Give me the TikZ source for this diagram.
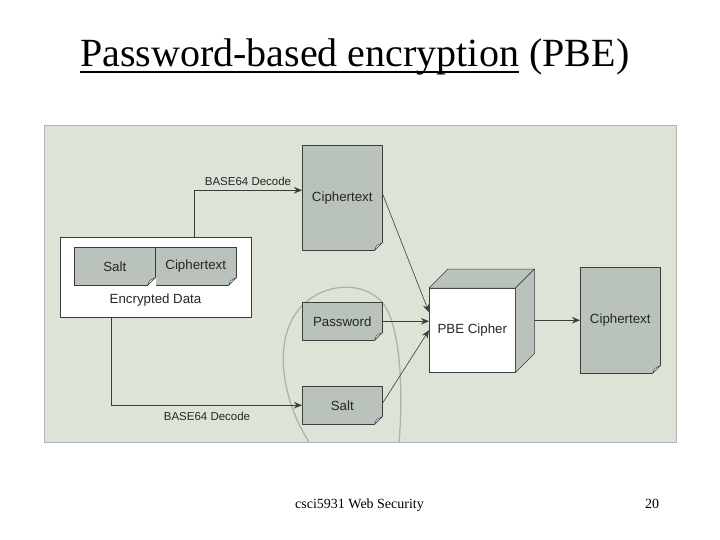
\documentclass[tikz,border=0pt]{standalone}
\usepackage{fontspec}
\setmainfont{Liberation Serif}
\newfontfamily\diafont{Liberation Sans}
\usetikzlibrary{arrows.meta,calc}
\definecolor{panelbg}{RGB}{221,227,215}
\definecolor{docfill}{RGB}{186,195,187}
\definecolor{lineg}{RGB}{60,60,60}
\definecolor{scrib}{RGB}{150,168,152}
\newcommand{\mydogear}[2]{%
  \fill[#2] ($(#1.south east)+(-8,0.6)$) -- ($(#1.south east)+(0.6,0.6)$) -- ($(#1.south east)+(0.6,-8)$) -- cycle;
  \filldraw[fill=docfill!55!white, draw=lineg, line width=0.4pt, line join=round]
    ($(#1.south east)+(-8,0)$) -- ($(#1.south east)+(0,-8)$) -- ($(#1.south east)+(-6,-5)$) -- cycle;
}
\begin{document}
\begin{tikzpicture}[x=1pt,y=-1pt,
  doc/.style={draw=lineg, line width=0.5pt, fill=docfill, inner sep=0pt, anchor=north west,
    font=\diafont\fontsize{13.3}{15}\selectfont, text=black!85},
  arr/.style={draw=lineg, line width=0.6pt, -{Stealth[length=8pt,width=6.5pt]}},
  lbl/.style={font=\diafont\fontsize{11.5}{13}\selectfont, text=black!85, inner sep=1pt},
  ttl/.style={anchor=base west, inner sep=0pt, font=\fontsize{40}{44}\selectfont}]
\useasboundingbox (0,0) rectangle (720,540);
\fill[white] (0,0) rectangle (720,540);

% title
\node[ttl] (t1) at (80,67) {Password-based encryption};
\node[ttl] (t2) at ([xshift=10pt]t1.base east) {(PBE)};
\draw[line width=2.2pt] ([yshift=-5pt]t1.base west) -- ([yshift=-5pt]t1.base east);

% panel
\node[draw=gray!60, fill=panelbg, minimum width=632pt, minimum height=317pt, inner sep=0pt, anchor=north west] (panel) at (44,125) {};

% scribble
\draw[scrib, line width=1.3pt, opacity=0.75] (309,442) .. controls (282,400) and (272,340) .. (300,308)
  .. controls (322,283) and (362,280) .. (382,302) .. controls (402,325) and (403,400) .. (399,442);

% encrypted data
\node[draw=lineg, line width=0.5pt, fill=white, minimum width=191pt, minimum height=80pt, inner sep=0pt, anchor=north west] (enc) at (60,237) {};
\node[doc, minimum width=81pt, minimum height=38pt] (s1) at (74,247) {Salt};
\node[doc, minimum width=81pt, minimum height=38pt] (c1) at (155,247) {Ciphertext};
\mydogear{s1}{white}
\mydogear{c1}{white}
\node[font=\diafont\fontsize{13.3}{15}\selectfont, text=black!85] (encl) at (155.5,300) {Encrypted Data};

% middle docs
\node[doc, minimum width=80pt, minimum height=105pt] (ct) at (302,145) {Ciphertext};
\node[doc, minimum width=80pt, minimum height=38pt] (pw) at (302,302) {Password};
\node[doc, minimum width=80pt, minimum height=38pt] (s2) at (302,386) {Salt};
\mydogear{ct}{panelbg}
\mydogear{pw}{panelbg}
\mydogear{s2}{panelbg}

% cube
\node[draw=lineg, line width=0.5pt, fill=white, minimum width=86pt, minimum height=84pt, inner sep=0pt, anchor=north west,
  font=\diafont\fontsize{13.3}{15}\selectfont, text=black!85] (pbe) at (429,288) {PBE Cipher};
\filldraw[fill=docfill, draw=lineg, line width=0.5pt, line join=round] (pbe.north west) -- ++(19,-19) -- ($(pbe.north east)+(19,-19)$) -- (pbe.north east) -- cycle;
\filldraw[fill=docfill, draw=lineg, line width=0.5pt, line join=round] (pbe.north east) -- ++(19,-19) -- ($(pbe.south east)+(19,-19)$) -- (pbe.south east) -- cycle;

% output
\node[doc, minimum width=80pt, minimum height=106pt] (out) at (580,267) {Ciphertext};
\mydogear{out}{panelbg}

% connectors
\coordinate (j1) at ([xshift=38.5pt]enc.north);
\draw[arr] (j1) |- ([yshift=7.5pt]ct.west);
\node[lbl] (l1) at (248,181) {BASE64 Decode};
\coordinate (j2) at ([xshift=-44.5pt]enc.south);
\draw[arr] (j2) |- (s2.west);
\node[lbl] (l2) at (207,416) {BASE64 Decode};
\draw[arr] ([yshift=4pt]ct.east) -- ([yshift=18pt]pbe.west);
\draw[arr] (pw.east) -- (pw.east -| pbe.west);
\draw[arr] ([yshift=2pt]s2.east) -- (pbe.west);
\coordinate (pbeo) at ([xshift=19pt]pbe.east);
\draw[arr] (pbeo |- out.west) -- (out.west);

% footer
\node[anchor=base, inner sep=0pt, font=\fontsize{14}{16}\selectfont] (foot) at (359.5,508) {csci5931 Web Security};
\node[anchor=base, inner sep=0pt, font=\fontsize{14}{16}\selectfont] (pg) at (652,508) {20};
\end{tikzpicture}
\end{document}
